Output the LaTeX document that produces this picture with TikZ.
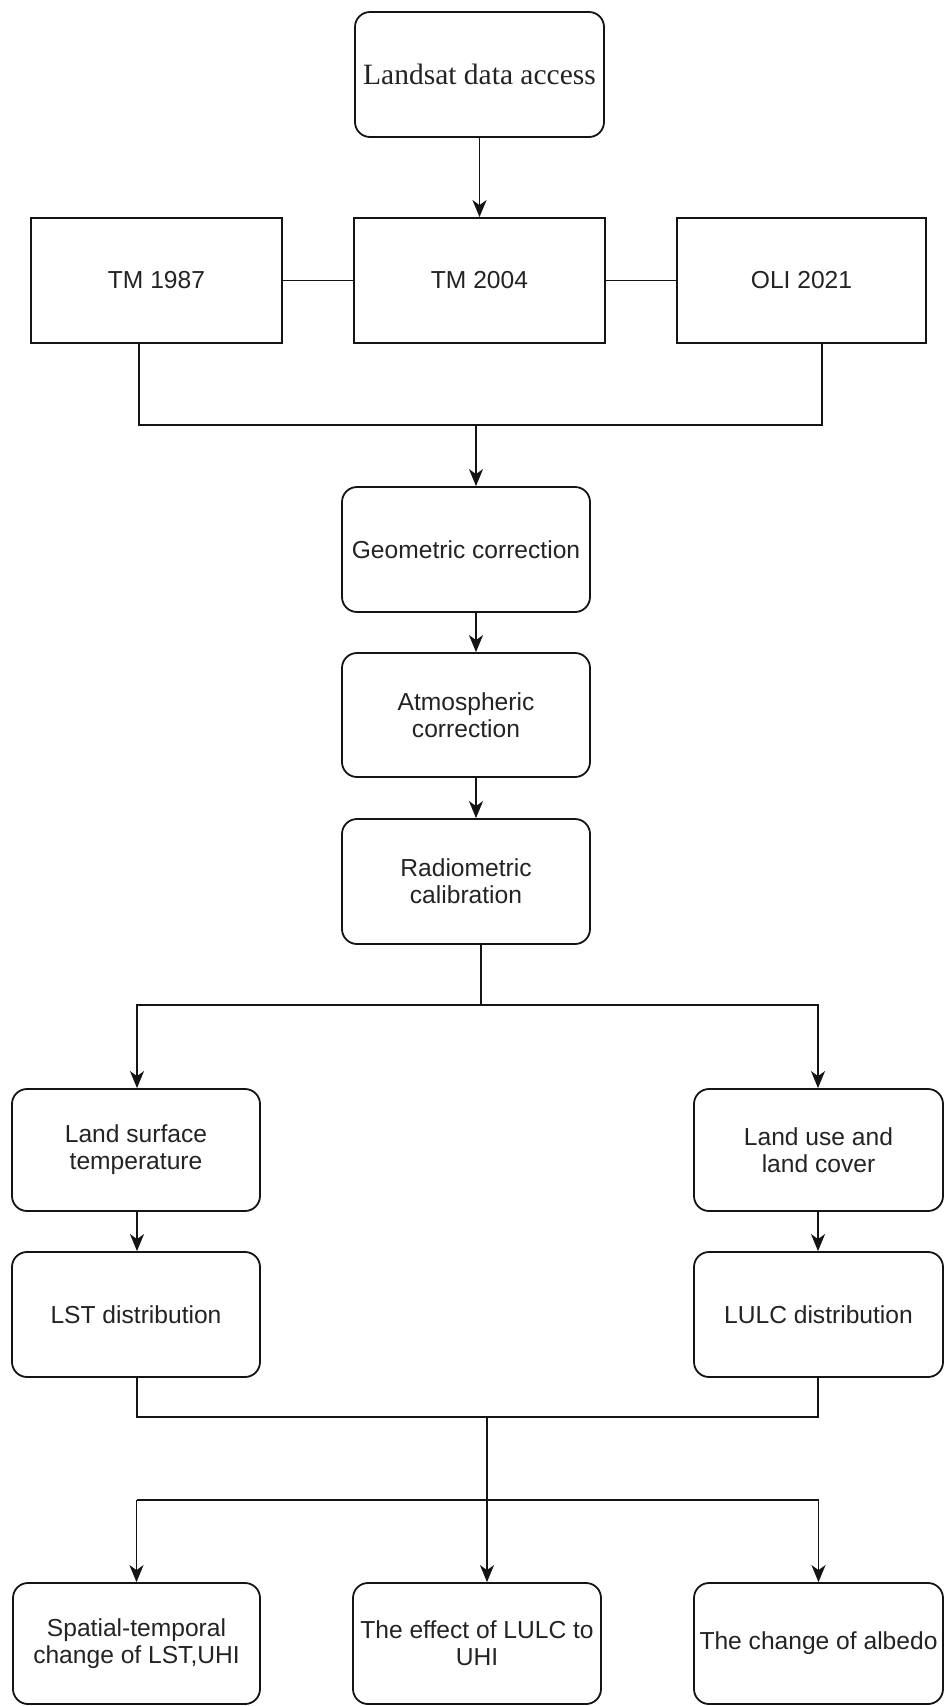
\documentclass[tikz,border=0pt]{standalone}
\usepackage{fontspec}
\setmainfont{Liberation Sans}
\setsansfont{Liberation Sans}
\newfontfamily\serifb{Liberation Serif}
\usetikzlibrary{arrows.meta}
\definecolor{txt}{RGB}{35,35,35}
\definecolor{ln}{RGB}{20,20,20}
\tikzset{
  x=1pt, y=-1pt,
  base/.style={draw=ln, line width=1.8pt, text=txt, align=center, inner sep=2pt,
    font=\sffamily\fontsize{24.6}{27}\selectfont},
  rbox/.style={base, rounded corners=15pt, minimum width=248pt, minimum height=124pt},
  sbox/.style={base, minimum width=250pt, minimum height=125pt},
  conn/.style={draw=ln, line width=1.8pt},
  arr/.style={conn, -{Stealth[length=17pt,width=14pt,inset=5pt]}},
}
\begin{document}
\begin{tikzpicture}
\useasboundingbox (0,0) rectangle (944,1706);
% nodes
\node[rbox, minimum width=249pt, minimum height=125pt, font=\serifb\fontsize{29.5}{31}\selectfont] (land) at (479.5,74.5) {Landsat data access};
\node[sbox, minimum width=251pt] (tm87) at (156.5,280.5) {TM 1987};
\node[sbox, minimum width=251pt] (tm04) at (479.5,280.5) {TM 2004};
\node[sbox, minimum width=249pt] (oli) at (801.5,280.5) {OLI 2021};
\node[rbox, minimum height=125pt] (geo) at (466,549.5) {Geometric correction};
\node[rbox] (atm) at (466,715) {Atmospheric\\correction};
\node[rbox, minimum height=125pt] (rad) at (466,881.5) {Radiometric\\calibration};
\node[rbox, minimum height=122pt] (lst1) at (136,1150) {Land surface\\temperature};
\node[rbox, minimum width=249pt, minimum height=122pt] (lulc1) at (818.5,1150) {Land use and\\land cover};
\node[rbox, minimum height=125pt] (lst2) at (136,1314.5) {LST distribution};
\node[rbox, minimum width=249pt, minimum height=125pt] (lulc2) at (818.5,1314.5) {LULC distribution};
\node[rbox, minimum width=247pt, minimum height=121pt] (out1) at (136.5,1643.5) {Spatial-temporal\\change of LST,UHI};
\node[rbox, minimum width=248pt, minimum height=121pt] (out2) at (477,1643.5) {The effect of LULC to\\UHI};
\node[rbox, minimum width=249pt, minimum height=121pt] (out3) at (818.5,1643.5) {The change of albedo};
% junction coordinates
\coordinate (j1) at (476,425);
\coordinate (j2) at (481,1005);
\coordinate (j3) at (487,1417);
\coordinate (j4) at (487,1500);
% connectors
\draw[arr] (land.south) -- (tm04.north);
\draw[conn] (tm87.east) -- (tm04.west);
\draw[conn] (tm04.east) -- (oli.west);
\draw[conn] ([xshift=-17.5pt]tm87.south) |- (j1) -| ([xshift=20.5pt]oli.south);
\draw[arr] (j1) -- (j1 |- geo.north);
\draw[arr] (j1 |- geo.south) -- (j1 |- atm.north);
\draw[arr] (j1 |- atm.south) -- (j1 |- rad.north);
\draw[conn] (j2 |- rad.south) -- (j2);
\draw[arr] (j2) -| ([xshift=1pt]lst1.north);
\draw[arr] (j2) -| ([xshift=-0.5pt]lulc1.north);
\draw[arr] ([xshift=1pt]lst1.south) -- ([xshift=1pt]lst2.north);
\draw[arr] ([xshift=-0.5pt]lulc1.south) -- ([xshift=-0.5pt]lulc2.north);
\draw[conn] ([xshift=1pt]lst2.south) |- (j3) -| ([xshift=-0.5pt]lulc2.south);
\draw[arr] (j3) -- (j3 |- out2.north);
\draw[conn] (j4) -- (j4 -| out1.north);
\draw[conn] (j4) -- (j4 -| out3.north);
\draw[arr] (j4 -| out1.north) -- (out1.north);
\draw[arr] (j4 -| out3.north) -- (out3.north);
\end{tikzpicture}
\end{document}
